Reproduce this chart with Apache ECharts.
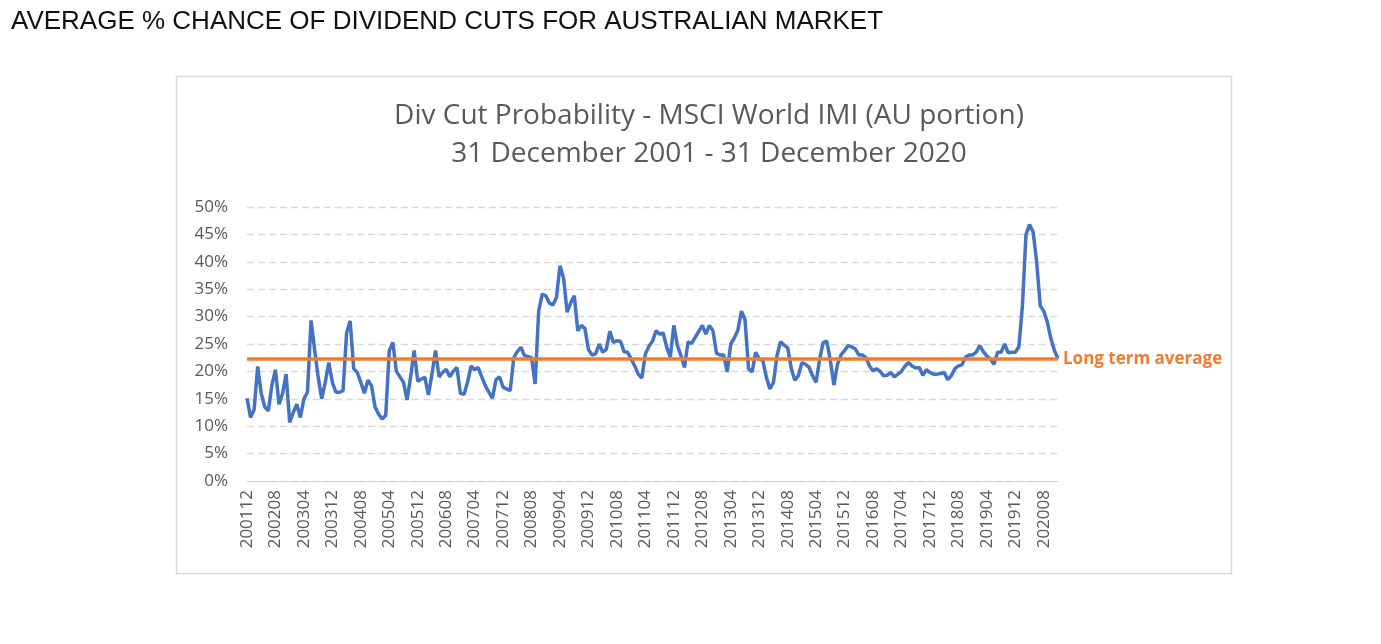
<!DOCTYPE html>
<html>
<head>
<meta charset="utf-8">
<title>Div Cut Probability</title>
<script src="https://cdn.jsdelivr.net/npm/echarts@6/dist/echarts.min.js"></script>
<style>
  html, body { margin: 0; padding: 0; background: #fff; }
  #main { width: 1381px; height: 644px; }
</style>
</head>
<body>
<div id="main"></div>
<script>
// monthly probability of a dividend cut (%), Dec 2001 .. Dec 2020
var divCut = [
  15.1, 11.6, 13.0, 20.9, 16.0, 13.5, 12.8, 17.5, 20.3, 14.0, 16.0, 19.5,
  10.7, 12.5, 14.0, 11.6, 15.0, 16.2, 29.3, 24.0, 19.0, 15.0, 18.0, 21.6,
  18.0, 16.2, 16.2, 16.5, 27.0, 29.2, 20.5, 19.8, 18.0, 16.0, 18.4, 17.4,
  13.5, 12.2, 11.3, 12.0, 23.8, 25.3, 20.0, 19.0, 18.0, 14.8, 19.0, 23.8,
  18.2, 18.6, 18.9, 15.7, 19.5, 23.8, 19.0, 19.8, 20.4, 19.0, 20.0, 20.7,
  16.0, 15.8, 18.0, 21.0, 20.3, 20.7, 19.0, 17.4, 16.2, 15.1, 18.5, 19.0,
  17.1, 16.8, 16.5, 22.5, 23.6, 24.4, 22.9, 22.7, 22.5, 17.7, 31.0, 34.1,
  33.8, 32.5, 32.1, 33.5, 39.3, 37.0, 30.8, 32.5, 33.8, 27.4, 28.4, 27.8,
  24.0, 23.0, 23.2, 25.0, 23.5, 24.0, 27.3, 25.3, 25.6, 25.5, 23.6, 23.5,
  22.3, 21.0, 19.5, 18.8, 23.2, 24.6, 25.5, 27.4, 26.8, 27.0, 24.4, 22.6,
  28.4, 24.7, 22.9, 20.7, 25.4, 25.1, 26.2, 27.3, 28.4, 26.8, 28.4, 27.4,
  23.3, 23.0, 23.0, 19.9, 25.0, 26.1, 27.5, 31.0, 29.5, 20.5, 19.9, 23.5,
  22.3, 22.0, 19.0, 16.8, 18.0, 22.9, 25.4, 24.8, 24.3, 20.6, 18.4, 19.2,
  21.6, 21.3, 20.8, 19.2, 18.0, 22.3, 25.3, 25.5, 22.0, 17.5, 21.3, 23.0,
  23.8, 24.7, 24.5, 24.1, 23.0, 23.0, 22.5, 21.0, 20.1, 20.5, 20.0, 19.2,
  19.3, 19.8, 19.0, 19.5, 20.0, 21.0, 21.6, 21.0, 20.6, 20.7, 19.3, 20.3,
  19.8, 19.5, 19.5, 19.6, 19.8, 18.5, 19.2, 20.5, 21.0, 21.2, 22.6, 23.0,
  23.0, 23.5, 24.7, 23.6, 22.8, 22.3, 21.3, 23.5, 23.5, 25.0, 23.4, 23.5,
  23.5, 24.5, 32.0, 45.0, 46.8, 45.5, 40.0, 32.0, 31.0, 29.0, 26.0, 23.8, 22.3
];
var longTermAvg = 22.3;

// month labels yyyymm
var months = [];
for (var k = 0; k < divCut.length; k++) {
  var m = 12 + k;
  var y = 2001 + Math.floor((m - 1) / 12);
  var mm = ((m - 1) % 12) + 1;
  months.push('' + y + (mm < 10 ? '0' + mm : mm));
}

var chart = echarts.init(document.getElementById('main'));
var grey = '#595959';

chart.setOption({
  animation: false,
  backgroundColor: '#fff',
  title: [{
    text: 'AVERAGE % CHANCE OF DIVIDEND CUTS FOR AUSTRALIAN MARKET',
    left: 6, top: 4,
    textStyle: { fontFamily: 'Liberation Sans', fontWeight: 'normal', fontSize: 26, color: '#111' }
  }, {
    text: 'Div Cut Probability - MSCI World IMI (AU portion)\n31 December 2001 - 31 December 2020',
    left: 704, top: 92, textAlign: 'center',
    textStyle: { fontFamily: 'Open Sans', fontWeight: 'normal', fontSize: 28, lineHeight: 38, color: grey }
  }],
  graphic: [{
    type: 'rect',
    shape: { x: 176.5, y: 76.5, width: 1055, height: 497 },
    style: { fill: 'none', stroke: '#d9d9d9', lineWidth: 1.5 },
    silent: true
  }],
  grid: { left: 247, right: 323, top: 207, bottom: 163 },
  xAxis: {
    type: 'category',
    data: months,
    boundaryGap: false,
    axisLine: { lineStyle: { color: '#d9d9d9', width: 1 } },
    axisTick: { show: false },
    axisLabel: {
      interval: 7, rotate: 90, margin: 9,
      color: grey, fontFamily: 'Open Sans', fontSize: 17
    }
  },
  yAxis: {
    type: 'value',
    min: 0, max: 50, interval: 5,
    axisLine: { show: false },
    axisTick: { show: false },
    axisLabel: {
      formatter: '{value}%', margin: 19,
      color: grey, fontFamily: 'Open Sans', fontSize: 17
    },
    splitLine: { lineStyle: { color: '#d9d9d9', type: [7, 4], width: 1.3 } }
  },
  series: [{
    type: 'line',
    data: divCut,
    showSymbol: false,
    lineStyle: { color: '#4472c4', width: 3.5 },
    itemStyle: { color: '#4472c4' },
    markLine: {
      silent: true,
      symbol: 'none',
      lineStyle: { color: '#ed7d31', width: 3.5, type: 'solid' },
      label: {
        show: true, position: 'end', distance: 5,
        formatter: 'Long term average',
        color: '#ed7d31', fontWeight: 'bold', fontFamily: 'Open Sans', fontSize: 17
      },
      data: [{ yAxis: longTermAvg }]
    }
  }]
});
</script>
</body>
</html>
